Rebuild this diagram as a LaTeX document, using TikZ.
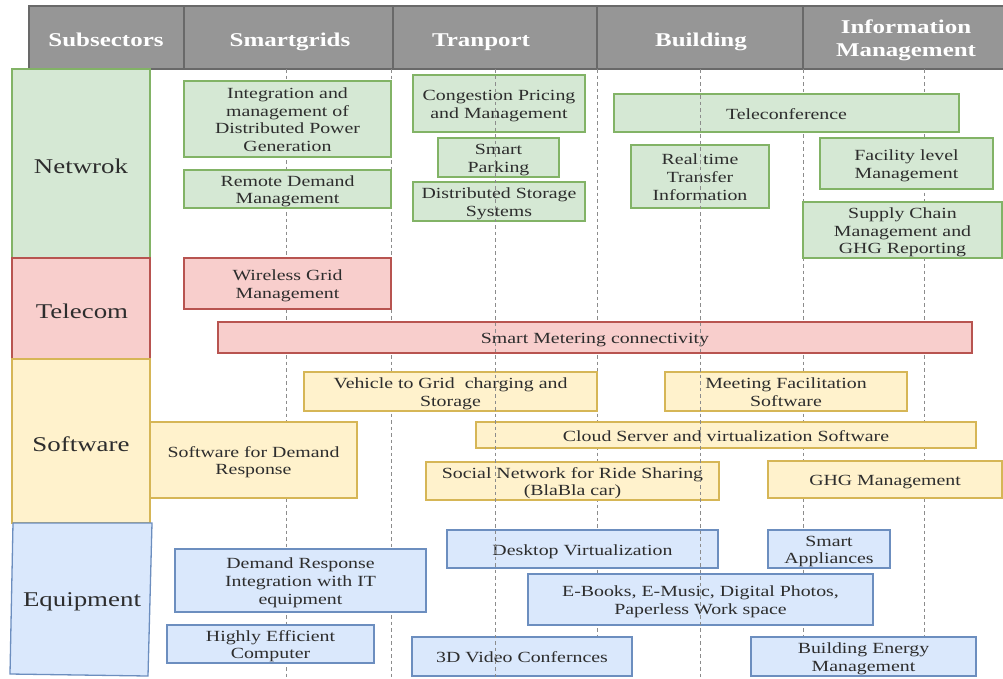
\documentclass[tikz,border=0pt]{standalone}
\usepackage{fontspec}
\setmainfont[FakeStretch=1.28]{Liberation Serif}

\definecolor{gfill}{RGB}{213,232,212}\definecolor{gline}{RGB}{130,179,102}
\definecolor{rfill}{RGB}{248,206,204}\definecolor{rline}{RGB}{184,84,80}
\definecolor{yfill}{RGB}{255,242,204}\definecolor{yline}{RGB}{214,182,86}
\definecolor{bfill}{RGB}{218,232,252}\definecolor{bline}{RGB}{108,142,191}
\definecolor{hfill}{RGB}{150,150,150}\definecolor{hline}{RGB}{105,105,105}
\definecolor{ink}{RGB}{45,45,45}
\definecolor{gridln}{RGB}{140,140,140}

% centred lines of a box, set a little low as in the layout
\newcommand{\boxtext}[1]{%
  \raisebox{-2.5pt}[\height][\depth]{\begin{tabular}{@{}c@{}}#1\end{tabular}}}

% a box given by its corners (x1,y1) and (x2,y2), in pixels, y downwards
\newcommand{\boxcell}[7]{%
  \node[#1, minimum width={(#5)-(#3)}, minimum height={(#6)-(#4)}]
    (#2) at ({((#3)+(#5))/2},{((#4)+(#6))/2}) {\boxtext{#7}};}

\tikzset{
  cellbase/.style={rectangle, inner sep=0pt, outer sep=0pt, line width=1.3pt,
    text=ink, font=\fontsize{15.5}{17.7}\selectfont},
  gbox/.style={cellbase, fill=gfill, draw=gline},
  rbox/.style={cellbase, fill=rfill, draw=rline},
  ybox/.style={cellbase, fill=yfill, draw=yline},
  bbox/.style={cellbase, fill=bfill, draw=bline},
  rowlabel/.style={inner sep=0pt, text=ink, font=\fontsize{21}{24}\selectfont},
  hdrcell/.style={rectangle, inner sep=0pt, outer sep=0pt, fill=hfill,
    draw=hline, line width=1.2pt},
  hdrtext/.style={inner sep=0pt, text=white, align=center,
    font=\fontsize{19.5}{23}\selectfont\bfseries},
  guide/.style={draw=gridln, line width=0.9pt, dash pattern=on 3.5pt off 3pt},
}

\begin{document}
\begin{tikzpicture}[x=1pt,y=-1pt]
\useasboundingbox (0,0) rectangle (1003,678);
\clip (0,0) rectangle (1003,678);

% header row
\node[hdrcell, minimum width=155, minimum height=63] (h1) at (106.5,37.5) {};
\node[hdrcell, minimum width=209, minimum height=63] (h2) at (288.5,37.5) {};
\node[hdrcell, minimum width=204, minimum height=63] (h3) at (495,37.5) {};
\node[hdrcell, minimum width=206, minimum height=63] (h4) at (700,37.5) {};
\node[hdrcell, minimum width=207, minimum height=63] (h5) at (906.5,37.5) {};
\node[hdrtext, anchor=base] (t1) at (106,46) {Subsectors};
\node[hdrtext, anchor=base] (t2) at (290,46) {Smartgrids};
\node[hdrtext, anchor=base] (t3) at (481,46) {Tranport};
\node[hdrtext, anchor=base] (t4) at (701,46) {Building};
\node[hdrtext] (t5) at (906,40.5) {Information\\Management};

% column guides lying under the boxes
\foreach \gx in {286,391,597,803,924}
  \draw[guide] (\gx,69) -- (\gx,678);

% row labels
\boxcell{gbox}{rnet}{12}{69}{150}{258}{}
\boxcell{rbox}{rtel}{12}{258}{150}{359}{}
\boxcell{ybox}{rsoft}{12}{359}{150}{523}{}
\draw[fill=bfill, draw=bline, line width=1.3pt]
  (13,523) -- (152,523) -- (148,676) -- (10,674) -- cycle;
\node[rowlabel] (lnet)  at (81,166)  {Netwrok};
\node[rowlabel] (ltel)  at (82,311)  {Telecom};
\node[rowlabel] (lsoft) at (81,444)  {Software};
\node[rowlabel] (lequ)  at (82,602)  {Equipment};

% Netwrok
\boxcell{gbox}{g1}{184}{81}{391}{157}{Integration and\\management of\\Distributed Power\\Generation}
\boxcell{gbox}{g2}{184}{170}{391}{208}{Remote Demand\\Management}
\boxcell{gbox}{g3}{413}{75}{585}{132}{Congestion Pricing\\and Management}
\boxcell{gbox}{g4}{438}{138}{559}{177}{Smart\\Parking}
\boxcell{gbox}{g5}{413}{182}{585}{221}{Distributed Storage\\Systems}
\boxcell{gbox}{g6}{614}{94}{959}{132}{Teleconference}
\boxcell{gbox}{g7}{631}{145}{769}{208}{Real time\\Transfer\\Information}
\boxcell{gbox}{g8}{820}{138}{993}{189}{Facility level\\Management}
\boxcell{gbox}{g9}{803}{202}{1002}{258}{Supply Chain\\Management and\\GHG Reporting}

% Telecom
\boxcell{rbox}{r1}{184}{258}{391}{309}{Wireless Grid\\Management}
\boxcell{rbox}{r2}{218}{322}{972}{353}{Smart Metering connectivity}

% Software
\boxcell{ybox}{y1}{304}{372}{597}{411}{Vehicle to Grid\ \ charging and\\Storage}
\boxcell{ybox}{y2}{665}{372}{907}{411}{Meeting Facilitation\\Software}
\boxcell{ybox}{y3}{150}{422}{357}{498}{Software for Demand\\Response}
\boxcell{ybox}{y4}{476}{422}{976}{448}{Cloud Server and virtualization Software}
\boxcell{ybox}{y5}{426}{462}{719}{500}{Social Network for Ride Sharing\\(BlaBla car)}
\boxcell{ybox}{y6}{768}{461}{1002}{498}{GHG Management}

% Equipment
\boxcell{bbox}{b1}{175}{549}{426}{612}{Demand Response\\Integration with IT\\equipment}
\boxcell{bbox}{b2}{167}{625}{374}{663}{Highly Efficient\\Computer}
\boxcell{bbox}{b3}{447}{530}{718}{568}{Desktop Virtualization}
\boxcell{bbox}{b4}{412}{637}{632}{676}{3D Video Confernces}
\boxcell{bbox}{b5}{768}{530}{890}{568}{Smart\\Appliances}
\boxcell{bbox}{b6}{528}{574}{873}{625}{E-Books, E-Music, Digital Photos,\\Paperless Work space}
\boxcell{bbox}{b7}{751}{637}{976}{676}{Building Energy\\Management}

% column guides running over the boxes
\foreach \gx in {495,700}
  \draw[guide] (\gx,69) -- (\gx,678);
\end{tikzpicture}
\end{document}
